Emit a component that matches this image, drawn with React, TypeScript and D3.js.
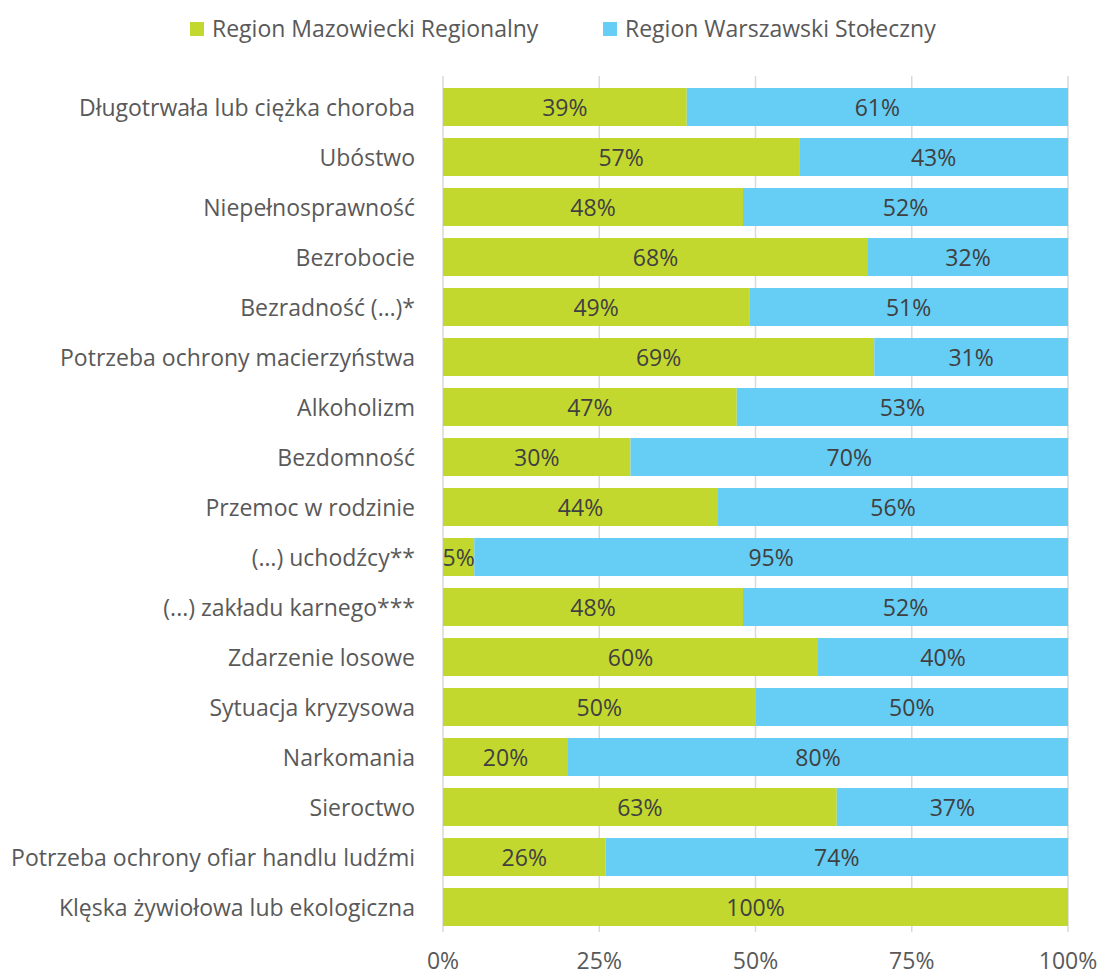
import { useEffect, useRef } from "react";
import * as d3 from "d3";

const categories = [
  "Długotrwała lub ciężka choroba",
  "Ubóstwo",
  "Niepełnosprawność",
  "Bezrobocie",
  "Bezradność (…)*",
  "Potrzeba ochrony macierzyństwa",
  "Alkoholizm",
  "Bezdomność",
  "Przemoc w rodzinie",
  "(…) uchodźcy**",
  "(...) zakładu karnego***",
  "Zdarzenie losowe",
  "Sytuacja kryzysowa",
  "Narkomania",
  "Sieroctwo",
  "Potrzeba ochrony ofiar handlu ludźmi",
  "Klęska żywiołowa lub ekologiczna",
];
const mazowiecki = [39, 57, 48, 68, 49, 69, 47, 30, 44, 5, 48, 60, 50, 20, 63, 26, 100];
const warszawski = [61, 43, 52, 32, 51, 31, 53, 70, 56, 95, 52, 40, 50, 80, 37, 74, 0];
const seriesNames = ["Region Mazowiecki Regionalny", "Region Warszawski Stołeczny"];
const colors = ["#C3D82E", "#66CDF5"];
const ticks = [0, 25, 50, 75, 100];

const App = () => {
  const svgRef = useRef<SVGSVGElement | null>(null);

  useEffect(() => {
    if (!svgRef.current) return;
    const svg = d3.select(svgRef.current);
    svg.selectAll("*").remove();
    const font = "'Open Sans', sans-serif";
    const fs = 23;

    const x = d3.scaleLinear().domain([0, 100]).range([443, 1068]);
    const y = d3.scaleBand().domain(categories).range([82, 932]).paddingInner(0.24).paddingOuter(0.12);

    // gridlines
    svg.append("g")
      .selectAll("line")
      .data(ticks)
      .enter().append("line")
      .attr("x1", d => x(d)).attr("x2", d => x(d))
      .attr("y1", 76).attr("y2", 932)
      .attr("stroke", "#D9D9D9").attr("stroke-width", 1.5);

    const rows = categories.map((c, i) => ({ c, vals: [mazowiecki[i], warszawski[i]] }));
    const g = svg.append("g");
    rows.forEach(r => {
      let acc = 0;
      r.vals.forEach((v, k) => {
        if (v <= 0) return;
        const x0 = x(acc);
        const x1 = x(acc + v);
        g.append("rect")
          .attr("x", x0).attr("y", y(r.c)!)
          .attr("width", x1 - x0).attr("height", y.bandwidth())
          .attr("fill", colors[k]);
        g.append("text")
          .attr("x", (x0 + x1) / 2).attr("y", y(r.c)! + y.bandwidth() / 2 + 8.5)
          .attr("text-anchor", "middle")
          .attr("font-family", font).attr("font-size", fs)
          .attr("fill", "#404040")
          .text(`${v}%`);
        acc += v;
      });
    });

    // category labels
    svg.append("g")
      .selectAll("text")
      .data(categories)
      .enter().append("text")
      .attr("x", 415).attr("y", d => y(d)! + y.bandwidth() / 2 + 8.5)
      .attr("text-anchor", "end")
      .attr("font-family", font).attr("font-size", fs)
      .attr("fill", "#595959")
      .text(d => d);

    // x tick labels
    svg.append("g")
      .selectAll("text")
      .data(ticks)
      .enter().append("text")
      .attr("x", d => x(d)).attr("y", 969)
      .attr("text-anchor", "middle")
      .attr("font-family", font).attr("font-size", fs)
      .attr("fill", "#595959")
      .text(d => `${d}%`);

    // legend
    const legendX = [190, 603];
    seriesNames.forEach((n, i) => {
      svg.append("rect")
        .attr("x", legendX[i]).attr("y", 22)
        .attr("width", 14).attr("height", 14)
        .attr("fill", colors[i]);
      svg.append("text")
        .attr("x", legendX[i] + 22).attr("y", 37)
        .attr("font-family", font).attr("font-size", fs)
        .attr("fill", "#595959")
        .text(n);
    });
  }, []);

  return <svg ref={svgRef} width={1100} height={976} style={{ position: "absolute", left: 0, top: 0 }}></svg>;
};

export default App;
